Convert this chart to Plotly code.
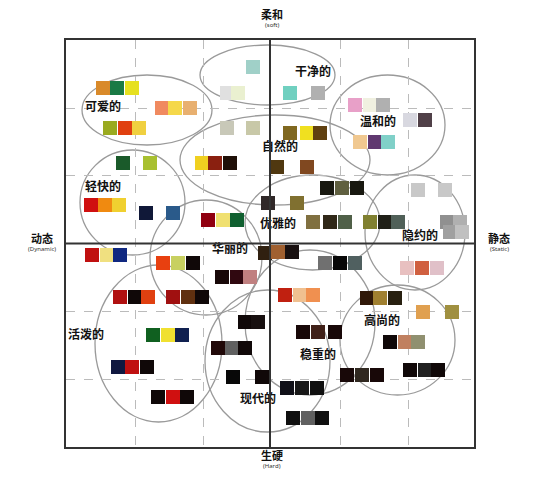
import plotly.graph_objects as go

# swatch positions (chart units = grid of 408 x 407) and colours
sw_x = [103, 117, 132, 162, 175, 190, 110, 125, 139, 227, 253, 253, 227, 238,
        123, 150, 202, 215, 230, 277, 91, 105, 119, 146, 173, 208, 223, 237, 268,
        290, 318, 355, 370, 383, 410, 425, 290, 307, 320, 360, 375, 388, 307,
        327, 342, 357, 418, 445, 297, 313, 330, 345, 370, 385, 398, 447, 460,
        92, 107, 120, 163, 178, 193, 265, 222, 237, 250, 120, 135, 148, 173, 188, 202,
        245, 258, 153, 168, 182, 218, 232, 245, 118, 132, 147, 233, 262, 158, 173, 187,
        450, 462, 278, 292, 325, 340, 355, 407, 422, 437, 285, 300, 313, 367, 380, 395,
        423, 452, 303, 318, 335, 390, 405, 418, 347, 362, 377, 410, 425, 438,
        287, 302, 317, 293, 308, 322]
sw_y = [88, 88, 88, 108, 108, 108, 128, 128, 128, 128, 128, 67, 93, 93,
        163, 163, 163, 163, 163, 167, 205, 205, 205, 213, 213, 220, 220, 220, 203,
        93, 93, 105, 105, 105, 120, 120, 133, 133, 133, 142, 142, 142, 167,
        188, 188, 188, 190, 190, 203, 222, 222, 222, 222, 222, 222, 222, 222,
        255, 255, 255, 263, 263, 263, 253, 277, 277, 277, 297, 297, 297, 297, 297, 297,
        322, 322, 335, 335, 335, 348, 348, 348, 367, 367, 367, 377, 377, 397, 397, 397,
        232, 232, 252, 252, 263, 263, 263, 268, 268, 268, 295, 295, 295, 298, 298, 298,
        312, 312, 332, 332, 332, 342, 342, 342, 375, 375, 375, 370, 370, 370,
        388, 388, 388, 418, 418, 418]
sw_c = ["#d98a2a", "#1a7a45", "#e6e020", "#f08a60", "#f5d84a", "#e8b070", "#9aaa20", "#e04010", "#f0d040",
        "#c8c8b8", "#c8c8a8", "#a0d0c8", "#e0e0e0", "#eaf0d0",
        "#1a5a2a", "#a8c030", "#f0d020", "#8a2010", "#201008", "#503810", "#d01010", "#f08a10", "#f0d030",
        "#101838", "#2a5a8a", "#900010", "#f0e070", "#106030", "#302828",
        "#70d0c0", "#b0b0b0", "#e8a0c8", "#f0f0e0", "#b0b0b0", "#d8d8e0", "#504048", "#806820", "#f0e020",
        "#604010", "#f0c890", "#603870", "#80d0c8", "#804820",
        "#181810", "#606040", "#181810", "#c8c8c8", "#c8c8c8", "#807030", "#807040", "#302818", "#506048",
        "#808030", "#202018", "#506058", "#909090", "#b0b0b0",
        "#c01010", "#f0e080", "#102880", "#e84010", "#c8d060", "#100808", "#302010", "#180808", "#300810",
        "#c08080", "#b01010", "#100808", "#e04010", "#a01010", "#603010", "#100808",
        "#100808", "#181010", "#106020", "#f0e030", "#102050", "#200808", "#606060", "#100808",
        "#101840", "#c01010", "#100808", "#080808", "#100808", "#100808", "#d01010", "#100808",
        "#a0a0a0", "#c0c0c0", "#a06030", "#181010", "#707070", "#080808", "#506060", "#e8c0c0", "#d06040",
        "#e0c0c8", "#c02010", "#f0c090", "#f09050", "#301808", "#a08030", "#282010",
        "#e0a050", "#a09040", "#180808", "#402018", "#180808", "#100808", "#c08060", "#909070",
        "#180808", "#302820", "#180808", "#100808", "#202020", "#100808",
        "#101018", "#181818", "#101010", "#101010", "#606060", "#101010"]

groups = ["干净的", "可爱的", "温和的", "自然的", "轻快的", "优雅的", "隐约的",
          "华丽的", "活泼的", "高尚的", "稳重的", "现代的"]
group_x = [313, 103, 378, 280, 103, 278, 420, 230, 86, 382, 318, 258]
group_y = [73, 108, 123, 148, 188, 225, 237, 250, 336, 322, 356, 400]

# blob outlines: left, top, right, bottom
blobs = [(200, 45, 335, 105), (82, 75, 212, 145), (330, 75, 445, 175), (180, 115, 370, 205),
         (80, 150, 185, 255), (245, 175, 380, 270), (365, 175, 465, 290), (150, 200, 262, 315),
         (95, 265, 222, 422), (340, 285, 455, 395), (245, 250, 375, 395), (205, 290, 330, 432)]

fig = go.Figure()
fig.add_trace(go.Scatter(x=sw_x, y=sw_y, mode="markers",
                         marker=dict(symbol="square", size=14, color=sw_c, line=dict(width=0)),
                         hoverinfo="skip"))
fig.add_trace(go.Scatter(x=group_x, y=group_y, mode="text", text=["<b>%s</b>" % g for g in groups],
                         textfont=dict(family="Noto Sans CJK SC", size=12, color="#111")))

for x0, y0, x1, y1 in blobs:
    fig.add_shape(type="circle", x0=x0, y0=y0, x1=x1, y1=y1,
                  line=dict(color="#9a9a9a", width=1.3), layer="below")
fig.add_shape(type="line", x0=270, x1=270, y0=40, y1=447, line=dict(color="#333", width=2))
fig.add_shape(type="line", x0=66, x1=474, y0=243.5, y1=243.5, line=dict(color="#333", width=2))

# axis end labels (outside the plot area, so placed in paper units)
axis_labels = [("柔和", "(soft)", 272, 14), ("动态", "(Dynamic)", 42, 238),
               ("静态", "(Static)", 499, 238), ("生硬", "(Hard)", 272, 455)]
for zh, en, px, py in axis_labels:
    fig.add_annotation(x=(px - 66) / 408, y=(447 - py) / 407, xref="paper", yref="paper",
                       showarrow=False, text="<b>%s</b>" % zh, xanchor="center", yanchor="middle",
                       font=dict(family="Noto Sans CJK SC", size=11, color="#111"))
    fig.add_annotation(x=(px - 66) / 408, y=(447 - py - 11) / 407, xref="paper", yref="paper",
                       showarrow=False, text=en, xanchor="center", yanchor="middle",
                       font=dict(family="Noto Sans", size=6, color="#333"))

fig.update_xaxes(range=[66, 474], tickvals=[135, 203, 340, 408], showticklabels=False,
                 showgrid=True, gridcolor="#bbb", griddash="dash", zeroline=False,
                 showline=True, mirror=True, linecolor="#333", linewidth=2)
fig.update_yaxes(range=[447, 40], tickvals=[108, 175, 311, 379], showticklabels=False,
                 showgrid=True, gridcolor="#bbb", griddash="dash", zeroline=False,
                 showline=True, mirror=True, linecolor="#333", linewidth=2)
fig.update_layout(width=550, height=481, margin=dict(l=58, r=84, t=32, b=42),
                  plot_bgcolor="white", paper_bgcolor="white", showlegend=False)
fig.write_html("out.html")
